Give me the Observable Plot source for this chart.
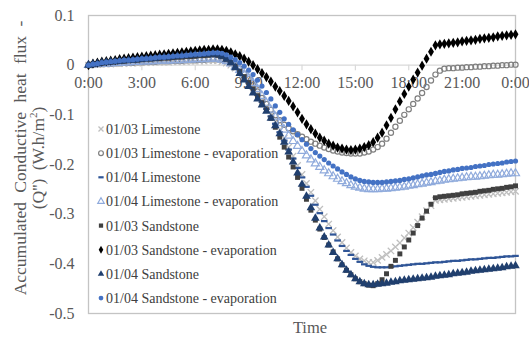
<!DOCTYPE html>
<html><head><meta charset="utf-8">
<script src="https://cdn.jsdelivr.net/npm/d3@7"></script>
<script src="https://cdn.jsdelivr.net/npm/@observablehq/plot@0.6"></script>
<style>html,body{margin:0;padding:0;background:#fff;} #chart{width:529px;height:339px;}</style>
</head><body><div id="chart"></div>
<script>
// Series names (legend order = drawing order)
const seriesNames = [
  "01/03 Limestone",
  "01/03 Limestone - evaporation",
  "01/04 Limestone",
  "01/04 Limestone - evaporation",
  "01/03 Sandstone",
  "01/03 Sandstone - evaporation",
  "01/04 Sandstone",
  "01/04 Sandstone - evaporation"
];
// Readings every 15 minutes, 0:00 .. 24:00 (97 values each), W.h/m2
const lime0103 = [
0.000,0.001,0.001,0.002, 0.002,0.002,0.003,0.003, 0.003,0.004,0.004,0.004, 0.005,0.005,0.005,0.006,
0.006,0.006,0.006,0.007, 0.007,0.007,0.007,0.008, 0.008,0.008,0.008,0.009, 0.009,0.009,0.007,0.004,
0.000,-0.006,-0.013,-0.022, -0.032,-0.043,-0.056,-0.069, -0.083,-0.098,-0.113,-0.130, -0.147,-0.165,-0.183,-0.202,
-0.220,-0.238,-0.256,-0.273, -0.290,-0.305,-0.320,-0.333, -0.346,-0.357,-0.368,-0.377, -0.384,-0.390,-0.394,-0.397,
-0.397,-0.393,-0.387,-0.381, -0.374,-0.366,-0.358,-0.348, -0.338,-0.327,-0.316,-0.305, -0.293,-0.283,-0.272,-0.271,
-0.270,-0.269,-0.268,-0.267, -0.266,-0.265,-0.264,-0.263, -0.262,-0.261,-0.260,-0.259, -0.258,-0.257,-0.256,-0.255,
-0.254];
const lime0103Evap = [
0.000,0.001,0.002,0.002, 0.003,0.003,0.004,0.004, 0.005,0.005,0.005,0.006, 0.006,0.007,0.007,0.007,
0.008,0.008,0.008,0.009, 0.009,0.009,0.010,0.010, 0.010,0.011,0.011,0.012, 0.012,0.012,0.011,0.009,
0.005,0.000,-0.007,-0.017, -0.028,-0.040,-0.053,-0.066, -0.078,-0.090,-0.101,-0.111, -0.120,-0.127,-0.133,-0.139,
-0.144,-0.149,-0.154,-0.158, -0.162,-0.166,-0.169,-0.172, -0.174,-0.176,-0.177,-0.178, -0.178,-0.178,-0.176,-0.174,
-0.170,-0.165,-0.158,-0.148, -0.136,-0.124,-0.112,-0.100, -0.089,-0.078,-0.067,-0.056, -0.044,-0.031,-0.019,-0.011,
-0.007,-0.006,-0.006,-0.005, -0.005,-0.004,-0.004,-0.003, -0.003,-0.002,-0.002,-0.001, -0.001,0.000,0.000,0.001,
0.001];
const lime0104 = [
0.000,0.001,0.003,0.004, 0.005,0.005,0.006,0.007, 0.008,0.008,0.009,0.009, 0.010,0.011,0.011,0.012,
0.012,0.013,0.013,0.014, 0.014,0.015,0.015,0.016, 0.016,0.017,0.017,0.018, 0.018,0.017,0.014,0.010,
0.004,-0.004,-0.013,-0.023, -0.035,-0.047,-0.060,-0.074, -0.088,-0.103,-0.118,-0.135, -0.152,-0.170,-0.188,-0.207,
-0.226,-0.245,-0.263,-0.281, -0.298,-0.314,-0.328,-0.341, -0.353,-0.364,-0.374,-0.382, -0.390,-0.396,-0.401,-0.404,
-0.406,-0.407,-0.407,-0.407, -0.406,-0.405,-0.404,-0.403, -0.402,-0.401,-0.400,-0.400, -0.399,-0.398,-0.397,-0.397,
-0.396,-0.395,-0.394,-0.394, -0.393,-0.392,-0.391,-0.391, -0.390,-0.389,-0.388,-0.388, -0.387,-0.386,-0.385,-0.385,
-0.384];
const lime0104Evap = [
0.000,0.001,0.002,0.002, 0.003,0.003,0.004,0.004, 0.005,0.005,0.006,0.006, 0.007,0.007,0.008,0.008,
0.009,0.009,0.009,0.010, 0.010,0.010,0.011,0.011, 0.012,0.012,0.012,0.013, 0.013,0.013,0.011,0.008,
0.003,-0.003,-0.010,-0.018, -0.026,-0.036,-0.048,-0.062, -0.076,-0.090,-0.104,-0.117, -0.130,-0.142,-0.153,-0.163,
-0.173,-0.182,-0.190,-0.198, -0.205,-0.212,-0.218,-0.224, -0.229,-0.234,-0.238,-0.242, -0.245,-0.247,-0.249,-0.250,
-0.250,-0.250,-0.249,-0.249, -0.248,-0.247,-0.246,-0.245, -0.243,-0.242,-0.240,-0.239, -0.237,-0.236,-0.234,-0.233,
-0.231,-0.230,-0.229,-0.228, -0.227,-0.226,-0.225,-0.225, -0.224,-0.223,-0.222,-0.221, -0.221,-0.220,-0.219,-0.218,
-0.218];
const sand0103 = [
0.000,0.002,0.003,0.004, 0.005,0.006,0.007,0.008, 0.008,0.009,0.010,0.010, 0.011,0.012,0.012,0.013,
0.013,0.014,0.014,0.015, 0.016,0.016,0.017,0.017, 0.018,0.019,0.019,0.020, 0.021,0.020,0.017,0.012,
0.006,-0.002,-0.012,-0.023, -0.035,-0.048,-0.062,-0.076, -0.090,-0.107,-0.125,-0.145, -0.165,-0.185,-0.205,-0.226,
-0.248,-0.270,-0.292,-0.312, -0.330,-0.347,-0.362,-0.376, -0.390,-0.402,-0.413,-0.422, -0.430,-0.436,-0.440,-0.443,
-0.444,-0.440,-0.432,-0.420, -0.405,-0.393,-0.380,-0.366, -0.352,-0.338,-0.323,-0.308, -0.294,-0.280,-0.267,-0.265,
-0.264,-0.263,-0.262,-0.261, -0.259,-0.258,-0.257,-0.256, -0.254,-0.253,-0.252,-0.250, -0.249,-0.248,-0.246,-0.245,
-0.243];
const sand0103Evap = [
0.000,0.003,0.005,0.007, 0.008,0.009,0.010,0.012, 0.013,0.014,0.015,0.016, 0.017,0.018,0.019,0.020,
0.021,0.022,0.023,0.024, 0.025,0.026,0.027,0.028, 0.029,0.030,0.031,0.031, 0.032,0.032,0.031,0.029,
0.026,0.022,0.018,0.013, 0.007,0.000,-0.008,-0.016, -0.024,-0.033,-0.043,-0.052, -0.062,-0.072,-0.083,-0.095,
-0.108,-0.119,-0.129,-0.138, -0.146,-0.152,-0.158,-0.162, -0.166,-0.168,-0.170,-0.171, -0.170,-0.168,-0.165,-0.161,
-0.155,-0.146,-0.136,-0.121, -0.106,-0.089,-0.073,-0.058, -0.043,-0.029,-0.015,-0.001, 0.013,0.027,0.040,0.042,
0.043,0.044,0.045,0.046, 0.048,0.049,0.050,0.051, 0.053,0.054,0.055,0.056, 0.058,0.059,0.060,0.061,
0.062];
const sand0104 = [
0.000,0.002,0.003,0.005, 0.006,0.007,0.007,0.008, 0.009,0.010,0.010,0.011, 0.012,0.013,0.013,0.014,
0.015,0.016,0.016,0.017, 0.018,0.019,0.019,0.020, 0.021,0.021,0.022,0.022, 0.023,0.022,0.018,0.012,
0.005,-0.005,-0.017,-0.030, -0.043,-0.056,-0.068,-0.080, -0.093,-0.107,-0.122,-0.138, -0.155,-0.175,-0.195,-0.217,
-0.240,-0.264,-0.287,-0.308, -0.328,-0.346,-0.362,-0.377, -0.390,-0.402,-0.413,-0.422, -0.430,-0.436,-0.440,-0.442,
-0.442,-0.441,-0.440,-0.439, -0.437,-0.436,-0.434,-0.433, -0.432,-0.431,-0.430,-0.429, -0.428,-0.427,-0.425,-0.424,
-0.423,-0.422,-0.420,-0.419, -0.418,-0.417,-0.415,-0.414, -0.413,-0.412,-0.411,-0.410, -0.409,-0.408,-0.406,-0.405,
-0.404];
const sand0104Evap = [
0.000,0.002,0.003,0.005, 0.006,0.007,0.008,0.009, 0.010,0.010,0.011,0.012, 0.013,0.013,0.014,0.015,
0.016,0.016,0.017,0.018, 0.019,0.019,0.020,0.021, 0.022,0.022,0.023,0.024, 0.025,0.025,0.024,0.021,
0.016,0.011,0.005,-0.002, -0.010,-0.019,-0.030,-0.042, -0.055,-0.068,-0.082,-0.095, -0.108,-0.119,-0.130,-0.140,
-0.150,-0.159,-0.168,-0.176, -0.183,-0.190,-0.197,-0.203, -0.209,-0.215,-0.220,-0.225, -0.229,-0.232,-0.234,-0.235,
-0.236,-0.236,-0.236,-0.235, -0.234,-0.233,-0.232,-0.230, -0.229,-0.227,-0.225,-0.223, -0.221,-0.220,-0.218,-0.216,
-0.214,-0.213,-0.211,-0.210, -0.208,-0.207,-0.206,-0.204, -0.203,-0.202,-0.200,-0.199, -0.198,-0.197,-0.195,-0.194,
-0.193];

const xTickHours = [0, 3, 6, 9, 12, 15, 18, 21, 24];
const xTickLabels = ["0:00", "3:00", "6:00", "9:00", "12:00", "15:00", "18:00", "21:00", "0:00"];
const yTicks = [0.1, 0, -0.1, -0.2, -0.3, -0.4, -0.5];

const seriesValues = [lime0103, lime0103Evap, lime0104, lime0104Evap, sand0103, sand0103Evap, sand0104, sand0104Evap];
const hours = d3.range(97).map(i => i / 4); // 15-minute sampling grid

// horizontal dash marker
const dashSymbol = {draw(ctx, size) {
  const w = Math.sqrt(size) * 0.62, h = 1.1;
  ctx.moveTo(-w, -h); ctx.lineTo(w, -h); ctx.lineTo(w, h); ctx.lineTo(-w, h); ctx.closePath();
}};
const styles = [
  {symbol: "times", fill: "none", stroke: "#bfbfbf", strokeWidth: 1.3, r: 3},
  {symbol: "circle", fill: "none", stroke: "#7f7f7f", strokeWidth: 1.2, r: 2.6},
  {symbol: dashSymbol, fill: "#2f5597", stroke: "none", r: 3},
  {symbol: "triangle", fill: "none", stroke: "#8faadc", strokeWidth: 1.2, r: 3},
  {symbol: "square", fill: "#404040", stroke: "none", r: 2.8},
  {symbol: "diamond", fill: "#000000", stroke: "none", r: 3.1},
  {symbol: "triangle", fill: "#203f6e", stroke: "none", r: 3.2},
  {symbol: "circle", fill: "#4472c4", stroke: "none", r: 2.6}
];

const dotMarks = seriesValues.map((vals, k) =>
  Plot.dot(vals, {x: (d, i) => hours[i], y: d => d, ...styles[k]})
);

const font = "'Liberation Serif', 'Times New Roman', serif";
const plot = Plot.plot({
  width: 529, height: 339,
  marginLeft: 88, marginRight: 14, marginTop: 15, marginBottom: 26,
  style: {fontFamily: font, fontSize: "16px", color: "#595959", background: "#fff"},
  x: {domain: [0, 24], axis: null},
  y: {domain: [-0.5, 0.1], ticks: yTicks, tickSize: 0, tickPadding: 14, label: null,
      tickFormat: d => String(+d.toFixed(1))},
  marks: [
    Plot.frame({stroke: "#c4c4c4", strokeWidth: 1.3}),
    Plot.ruleY([0], {stroke: "#d9d9d9", strokeWidth: 1.2}),
    Plot.ruleX(xTickHours, {x: d => d, y1: 0, y2: -0.011, stroke: "#d9d9d9", strokeWidth: 1.2}),
    Plot.text(xTickHours, {x: d => d, y: 0, text: (d, i) => xTickLabels[i], dy: 18, fill: "#595959", fontSize: 16}),
    ...dotMarks
  ]
});
document.getElementById("chart").appendChild(plot);

const svg = d3.select(plot);
// Axis titles
const yt = svg.append("g").attr("fill", "#595959").attr("font-family", font).attr("font-size", 17.5).attr("text-anchor", "middle");
yt.append("text").attr("transform", "translate(26,158) rotate(-90)").attr("word-spacing", "5px").text("Accumulated Conductive heat flux -");
const t2 = yt.append("text").attr("transform", "translate(44,158) rotate(-90)").attr("word-spacing", "4px");
t2.append("tspan").text("(Q'') (W.h/m");
t2.append("tspan").attr("font-size", 11).attr("dy", -7).text("2");
t2.append("tspan").attr("dy", 7).text(")");
svg.append("text").attr("x", 310).attr("y", 333).attr("text-anchor", "middle").attr("fill", "#595959")
  .attr("font-family", font).attr("font-size", 16.5).text("Time");

// Legend
const lg = svg.append("g").attr("font-family", font).attr("font-size", 14).attr("fill", "#404040").attr("text-anchor", "start");
seriesNames.forEach((name, k) => {
  const y = 129 + 24.15 * k;
  const st = styles[k];
  const type = typeof st.symbol === "string" ? {
    times: d3.symbolTimes, circle: d3.symbolCircle, triangle: d3.symbolTriangle,
    square: d3.symbolSquare, diamond: d3.symbolDiamond}[st.symbol] : st.symbol;
  lg.append("path").attr("transform", `translate(101,${y})`)
    .attr("d", d3.symbol(type, Math.PI * 2.4 * 2.4)())
    .attr("fill", st.fill).attr("stroke", st.stroke).attr("stroke-width", st.strokeWidth || 0);
  lg.append("text").attr("x", 106).attr("y", y).attr("dy", "0.35em").attr("text-anchor", "start").text(name);
});
</script></body></html>
